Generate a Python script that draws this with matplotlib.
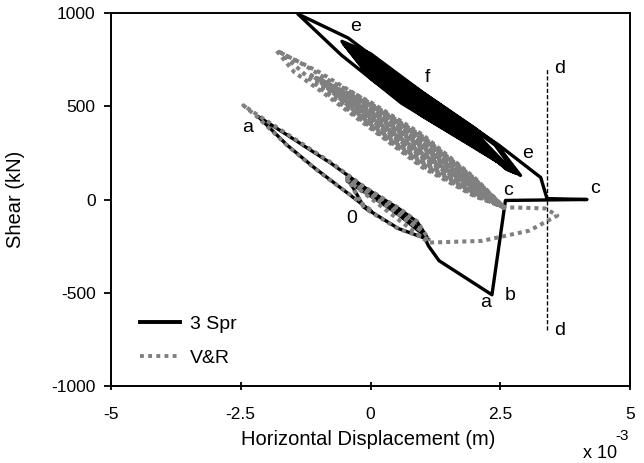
import numpy as np
import matplotlib
matplotlib.use('Agg')
import matplotlib.pyplot as plt
from matplotlib.lines import Line2D

plt.rcParams['font.family'] = ['Liberation Sans', 'DejaVu Sans']
plt.rcParams['axes.unicode_minus'] = False

# ---- 3 Spr (black) : displacement in 1e-3 m, shear in kN ----
# first small loop around origin up to point a
spr_first_x = [0.00, -0.76, -1.09, -1.60, -2.17, -1.60, -1.09, -0.76, -0.12, 0.54, 0.90, 1.12,
               0.54, -0.12, -0.45, 0.30, 1.00, 0.30, -0.45, 0.30, 1.00]
spr_first_y = [-60, 102, 172, 290, 446, 345, 253, 194, 65, -48, -120, -215,
               -156, -43, 120, -15, -170, -35, 100, -25, -185]
# push a -> b -> c, then back up to e
spr_push_x = [1.12, 1.32, 2.34, 2.60, 4.17, 3.40, 3.28, 2.48, 0.60, -0.43, -1.40, -0.56, 0.60, 2.15, 2.89]
spr_push_y = [-250, -328, -511, -5, 0, 5, 118, 290, 650, 866, 995, 774, 516, 253, 129]
# repeated cycles between e and f
spr_band_x = [2.45, 2.00, 1.00, 0.00, -0.55, 0.00, 1.00, 2.00, 2.80,
              2.40, 2.00, 1.00, 0.00, -0.52, 0.00, 1.00, 2.00, 2.75,
              2.00, 1.00, 0.00, -0.48, 0.00, 1.00, 2.00, 2.70,
              2.00, 1.00, 0.00, -0.44, 0.00, 1.00, 2.00, 2.65,
              2.00, 1.00, 0.00, -0.40, 0.00, 1.00, 2.00, 2.62,
              2.00, 1.00, 0.00, -0.36, 0.00, 1.00, 2.00, 2.60,
              2.00, 1.00, 0.00, -0.30, 0.00, 1.00, 2.00]
spr_band_y = [288, 384, 575, 782, 848, 650, 448, 282, 140,
              292, 374, 565, 770, 835, 660, 458, 290, 146,
              364, 555, 758, 822, 670, 468, 298, 152,
              354, 545, 746, 810, 680, 478, 306, 158,
              344, 535, 735, 798, 690, 488, 314, 163,
              334, 524, 724, 786, 700, 498, 320, 168,
              328, 514, 715, 772, 710, 506, 326]

# ---- V&R (grey dotted) ----
vr_first_x = [0.00, -0.76, -1.09, -1.60, -2.17, -2.45, -2.17, -1.60, -1.09, -0.76, -0.12, 0.54, 0.90, 1.12,
              0.54, -0.12, -0.45, 0.30, 1.00, 0.30, -0.45, 0.50, 1.12]
vr_first_y = [-55, 100, 170, 288, 440, 505, 452, 350, 258, 198, 68, -45, -118, -212,
              -158, -46, 115, -12, -172, -32, 105, -100, -231]
vr_push_x = [2.15, 3.06, 3.60, 3.37, 2.79, 2.58]
vr_push_y = [-222, -167, -86, -48, -43, -43]
vr_band_x = [2.00, 1.00, 0.00, -0.81, -1.30, -1.82, -1.47, -0.95, 0.00, 1.00, 2.00, 2.58,
             2.00, 1.00, 0.00, -1.00, -1.72, -1.00, 0.00, 1.00, 2.00, 2.56,
             2.00, 1.00, 0.00, -1.20, 0.00, 1.00, 2.00, 2.55,
             2.00, 1.00, 0.00, -1.10, 0.00, 1.00, 2.00, 2.57,
             2.00, 1.00, 0.00, -1.00, 0.00, 1.00, 2.00, 2.58,
             2.00, 1.00, 0.00, -0.85, 0.00, 1.00, 2.00, 2.56,
             2.00, 1.00, 0.00, -0.95, 0.00, 1.00, 2.00, 2.55,
             2.00, 1.00, 0.00, -0.90, 0.00, 1.00, 2.00, 2.57,
             2.00, 1.00, 0.00, -0.75, 0.00, 1.00, 2.00, 2.58,
             2.00, 1.00, 0.00, -0.65, 0.00, 1.00, 2.00, 2.56,
             2.00, 1.00, 0.00, -0.55, 0.00, 1.00, 2.00, 2.58,
             2.00, 1.00, 0.00, -0.45, 0.00, 1.00, 2.00, 2.58]
vr_band_y = [118, 348, 522, 640, 725, 801, 683, 580, 382, 172, 18, -43,
             113, 339, 515, 685, 785, 604, 389, 181, 23, -42,
             108, 330, 508, 675, 396, 190, 28, -40,
             103, 322, 501, 660, 403, 198, 33, -42,
             98, 313, 494, 650, 410, 207, 38, -43,
             93, 304, 487, 620, 417, 216, 43, -42,
             90, 300, 484, 635, 420, 220, 46, -40,
             86, 291, 477, 625, 428, 229, 50, -42,
             83, 286, 473, 595, 431, 234, 53, -43,
             78, 278, 466, 578, 438, 242, 58, -42,
             76, 273, 462, 556, 442, 247, 60, -43,
             72, 267, 458, 540, 446, 253, 64, -43]

# limit line d
d_x = [3.41, 3.41]
d_y = [-700, 700]

# point labels
lab_txt = ['a', '0', 'a', 'b', 'c', 'c', 'd', 'd', 'e', 'e', 'f']
lab_x = [-2.36, -0.37, 2.21, 2.69, 2.64, 4.32, 3.64, 3.64, -0.29, 3.02, 1.09]
lab_y = [387, -102, -554, -516, 48, 59, 704, -704, 925, 247, 656]

fig = plt.figure(figsize=(6.44, 4.63), dpi=100)
ax = fig.add_axes([111/644, 1-386/463, 519/644, 373/463])

spr_x = spr_first_x + spr_push_x + spr_band_x
spr_y = spr_first_y + spr_push_y + spr_band_y
vr_x = vr_first_x + vr_push_x + vr_band_x
vr_y = vr_first_y + vr_push_y + vr_band_y

ax.plot(spr_x, spr_y, color='black', lw=2.4, solid_joinstyle='round', zorder=2)
ax.plot(vr_x, vr_y, color='#808080', lw=2.9, dashes=(1, 1.0), dash_capstyle='butt', zorder=3)
ax.plot(d_x, d_y, color='black', lw=1.0, dashes=(3, 1.5), zorder=2)

for t, x, y in zip(lab_txt, lab_x, lab_y):
    ax.text(x, y, t, fontsize=14, ha='center', va='center', zorder=4)

ax.set_xlim(-5, 5)
ax.set_ylim(-1000, 1000)
ax.set_xticks([-5, -2.5, 0, 2.5, 5])
ax.set_xticklabels(['-5', '-2.5', '0', '2.5', '5'])
ax.set_yticks([-1000, -500, 0, 500, 1000])
ax.tick_params(axis='y', direction='out', length=5, width=1.3, labelsize=12.5, pad=6)
ax.tick_params(axis='x', direction='inout', length=6, width=1.3, labelsize=12.5, pad=12)
for s in ax.spines.values():
    s.set_linewidth(1.4)

ax.set_xlabel('Horizontal Displacement (m)', fontsize=14.5)
ax.set_ylabel('Shear (kN)', fontsize=14.5)
ax.xaxis.set_label_coords(0.495, -0.118)
ax.yaxis.set_label_coords(-0.165, 0.5)

fig.text(600/644, 1-454/463, 'x 10', fontsize=13, ha='center', va='center')
fig.text(622/644, 1-436/463, '-3', fontsize=11, ha='center', va='center')

handles = [Line2D([], [], color='black', lw=2.8),
           Line2D([], [], color='#808080', lw=2.8, dashes=(1, 1.1), dash_capstyle='butt')]
ax.legend(handles, ['3 Spr', 'V&R'], loc='upper left', bbox_to_anchor=(0.056, 0.19),
          frameon=False, fontsize=14, handlelength=2.05, handletextpad=0.5,
          labelspacing=0.85, borderpad=0, borderaxespad=0)

fig.savefig('out.png', dpi=100)
